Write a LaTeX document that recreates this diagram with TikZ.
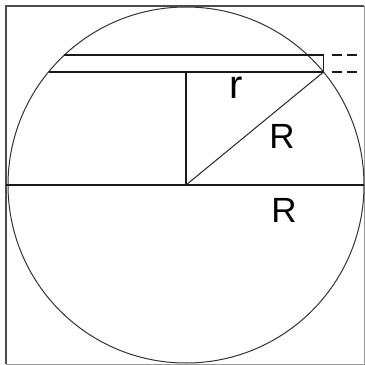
\documentclass[tikz,border=0pt]{standalone}
\usepackage{fontspec}
\setmainfont{Liberation Sans}
\begin{document}
\begin{tikzpicture}[x=1pt,y=-1pt,
  line/.style={line width=1.4pt,black!90},
  lbl/.style={inner sep=0pt,font=\fontsize{35}{35}\selectfont}]
\useasboundingbox (0,0) rectangle (365,365);
% frame
\draw[line width=2.2pt,black!70] (6,364) -- (6,6) -- (364,6);
\draw[line width=1pt,black!40] (6,364.5) -- (364.5,364.5) -- (364.5,6);
% circle
\coordinate (O) at (186,185);
\draw[line width=1pt,black!80] (O) circle[radius=178];
% coordinates
\coordinate (L) at (6,185);
\coordinate (Rt) at (364,185);
\coordinate (A1) at (64.4,55);
\coordinate (A2) at (323.5,55);
\coordinate (B1) at (48.5,72);
\coordinate (B2) at (323.5,72);
\coordinate (C) at (186,72);
\coordinate (D1) at (332,55);
\coordinate (D2) at (358,55);
\coordinate (E1) at (332,72);
\coordinate (E2) at (358,72);
% lines
\draw[line] (L) -- (Rt);
\draw[line] (A1) -- (A2) -- (B2);
\draw[line] (B1) -- (B2);
\draw[line] (C) -- (O);
\draw[line width=1pt,black!85] (O) -- (B2);
\draw[line,dash pattern=on 10pt off 5pt] (D1) -- (D2);
\draw[line,dash pattern=on 10pt off 5pt] (E1) -- (E2);
% labels
\node[lbl,font=\fontsize{40}{40}\selectfont] (r) at (236.5,87.5) {r};
\node[lbl] (R1) at (282,136) {R};
\node[lbl] (R2) at (284,210) {R};
\end{tikzpicture}
\end{document}
